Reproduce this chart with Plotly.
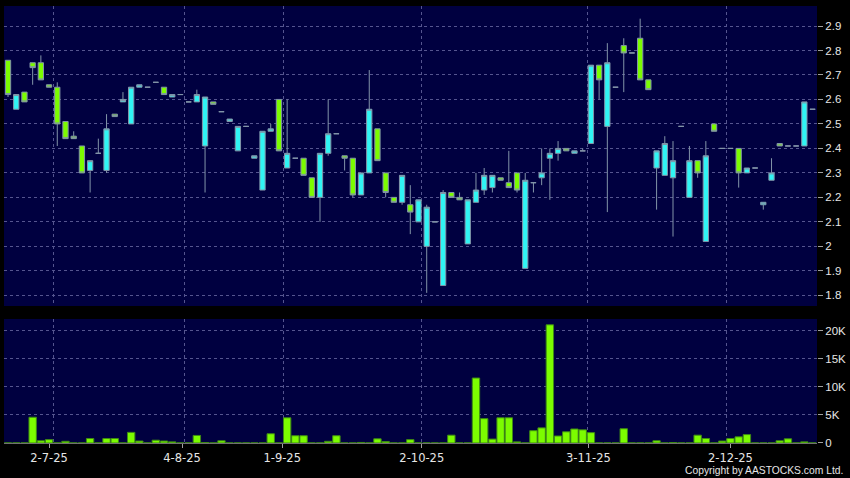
import plotly.graph_objects as go

# ---- data ----
opens = [2.76, 2.56, 2.63, 2.75, 2.75, 2.66, 2.65, 2.51, 2.45, 2.41,
         2.31, 2.38, 2.31, 2.54, 2.59, 2.50, 2.65, 2.65, 2.67, 2.65,
         2.61, 2.62, 2.59, 2.59, 2.41, 2.59, 2.55, 2.51, 2.39, 2.49,
         2.36, 2.23, 2.47, 2.60, 2.32, 2.36, 2.36, 2.28, 2.20, 2.38,
         2.46, 2.37, 2.36, 2.21, 2.30, 2.48, 2.30, 2.20, 2.18, 2.17,
         2.10, 2.00, 2.10, 1.84, 2.22, 2.20, 2.01, 2.18, 2.23, 2.24,
         2.28, 2.26, 2.30, 1.91, 2.26, 2.28, 2.36, 2.38, 2.40, 2.38,
         2.39, 2.42, 2.74, 2.49, 2.65, 2.82, 2.79, 2.85, 2.68, 2.32,
         2.29, 2.28, 2.49, 2.20, 2.35, 2.02, 2.50, 2.40, 2.40, 2.40,
         2.30, 2.32, 2.17, 2.27, 2.42, 2.41, 2.41, 2.41, 2.56]
highs = [2.76, 2.62, 2.63, 2.75, 2.78, 2.66, 2.67, 2.51, 2.47, 2.41,
         2.35, 2.44, 2.54, 2.54, 2.63, 2.65, 2.66, 2.65, 2.67, 2.65,
         2.62, 2.62, 2.59, 2.64, 2.61, 2.59, 2.55, 2.52, 2.49, 2.49,
         2.37, 2.47, 2.50, 2.60, 2.60, 2.36, 2.36, 2.28, 2.38, 2.60,
         2.46, 2.37, 2.36, 2.30, 2.72, 2.48, 2.30, 2.20, 2.29, 2.25,
         2.19, 2.17, 2.10, 2.23, 2.22, 2.22, 2.19, 2.30, 2.32, 2.29,
         2.28, 2.39, 2.30, 2.30, 2.26, 2.40, 2.40, 2.43, 2.40, 2.39,
         2.40, 2.74, 2.74, 2.83, 2.65, 2.85, 2.79, 2.93, 2.68, 2.39,
         2.45, 2.43, 2.49, 2.41, 2.35, 2.43, 2.50, 2.40, 2.40, 2.40,
         2.32, 2.32, 2.18, 2.36, 2.42, 2.41, 2.41, 2.59, 2.56]
lows = [2.61, 2.56, 2.59, 2.66, 2.68, 2.65, 2.41, 2.44, 2.44, 2.30,
        2.22, 2.38, 2.30, 2.53, 2.59, 2.50, 2.65, 2.65, 2.67, 2.62,
        2.61, 2.62, 2.59, 2.59, 2.22, 2.58, 2.55, 2.51, 2.39, 2.49,
        2.36, 2.23, 2.47, 2.39, 2.32, 2.36, 2.29, 2.20, 2.10, 2.37,
        2.46, 2.31, 2.20, 2.21, 2.30, 2.35, 2.20, 2.18, 2.17, 2.05,
        2.10, 1.81, 2.10, 1.84, 2.20, 2.19, 2.01, 2.18, 2.21, 2.22,
        2.27, 2.24, 2.22, 1.91, 2.22, 2.25, 2.19, 2.35, 2.39, 2.38,
        2.39, 2.42, 2.60, 2.14, 2.65, 2.63, 2.79, 2.68, 2.64, 2.15,
        2.29, 2.04, 2.49, 2.20, 2.28, 2.02, 2.47, 2.40, 2.40, 2.24,
        2.30, 2.32, 2.15, 2.27, 2.41, 2.41, 2.41, 2.41, 2.56]
closes = [2.62, 2.62, 2.59, 2.73, 2.68, 2.65, 2.50, 2.44, 2.44, 2.30,
          2.35, 2.38, 2.48, 2.53, 2.60, 2.65, 2.66, 2.65, 2.67, 2.62,
          2.62, 2.62, 2.59, 2.62, 2.61, 2.58, 2.55, 2.52, 2.49, 2.49,
          2.37, 2.47, 2.48, 2.39, 2.38, 2.36, 2.29, 2.20, 2.38, 2.46,
          2.46, 2.36, 2.21, 2.30, 2.56, 2.35, 2.22, 2.18, 2.29, 2.14,
          2.19, 2.16, 2.10, 2.22, 2.20, 2.19, 2.19, 2.23, 2.29, 2.29,
          2.27, 2.24, 2.23, 2.27, 2.26, 2.30, 2.38, 2.40, 2.39, 2.39,
          2.39, 2.74, 2.68, 2.75, 2.65, 2.79, 2.79, 2.68, 2.64, 2.39,
          2.42, 2.35, 2.49, 2.35, 2.30, 2.37, 2.47, 2.40, 2.40, 2.30,
          2.32, 2.32, 2.18, 2.30, 2.41, 2.41, 2.41, 2.59, 2.56]
volumes = [10, 10, 10, 4600, 400, 600, 10, 300, 10, 10,
           800, 10, 800, 800, 10, 1900, 350, 10, 500, 350,
           200, 10, 10, 1350, 80, 10, 400, 10, 10, 10,
           10, 10, 1650, 10, 4500, 1300, 1300, 10, 10, 300,
           1300, 10, 10, 100, 10, 750, 250, 10, 10, 600,
           10, 10, 10, 10, 1400, 10, 10, 11600, 4350, 700,
           4500, 4500, 200, 10, 2200, 2700, 21100, 1250, 2000, 2500,
           2350, 1850, 10, 10, 10, 2550, 10, 10, 10, 400,
           10, 80, 10, 10, 1400, 800, 10, 350, 800, 1100,
           1500, 10, 10, 10, 400, 750, 10, 200, 10]

date_tick_pos = [5, 21.2, 33.4, 50.4, 70.7, 88]
date_grid_pos = [5.5, 21.5, 33.5, 50.4, 70.6, 87.5]
date_tick_labels = ["2-7-25", "4-8-25", "1-9-25", "2-10-25", "3-11-25", "2-12-25"]
price_ticks = [1.8, 1.9, 2.0, 2.1, 2.2, 2.3, 2.4, 2.5, 2.6, 2.7, 2.8, 2.9]
price_tick_labels = ["1.8", "1.9", "2", "2.1", "2.2", "2.3", "2.4", "2.5", "2.6", "2.7", "2.8", "2.9"]
vol_ticks = [0, 5000, 10000, 15000, 20000]
vol_tick_labels = ["0", "5K", "10K", "15K", "20K"]

x = list(range(len(opens)))

# ---- styles ----
UP_FILL = "#30F4F4"
DOWN_FILL = "#7CFC00"
EDGE = "#8294A8"
NAVY = "#000040"
GRID = "#55558F"
TXT = "#E6E6E6"

fig = go.Figure()
fig.add_trace(go.Candlestick(
    x=x, open=opens, high=highs, low=lows, close=closes,
    increasing=dict(fillcolor=UP_FILL, line=dict(color=EDGE, width=1)),
    decreasing=dict(fillcolor=DOWN_FILL, line=dict(color=EDGE, width=1)),
    xaxis="x", yaxis="y", showlegend=False, hoverinfo="skip",
))
fig.add_trace(go.Bar(
    x=x, y=volumes,
    marker=dict(color=DOWN_FILL, line=dict(color="#3E8A14", width=1)),
    xaxis="x2", yaxis="y2", showlegend=False, hoverinfo="skip",
))

xr = [-0.49, 98.54]
axis_font = dict(family="DejaVu Sans", size=11.5, color=TXT)
yfont = dict(family="Liberation Sans", size=11.5, color=TXT)

fig.update_layout(
    width=850, height=478,
    margin=dict(l=4, r=33, t=6, b=35),
    paper_bgcolor="#000000",
    plot_bgcolor=NAVY,
    showlegend=False,
    boxgap=0.08,
    bargap=0.1,
    xaxis=dict(domain=[0, 1], range=xr, anchor="y",
               tickvals=date_grid_pos, showticklabels=False, ticks="",
               showgrid=True, gridcolor=GRID, griddash="3px,3px", gridwidth=1,
               zeroline=False, showline=False,
               rangeslider=dict(visible=False), fixedrange=True),
    yaxis=dict(domain=[0.3135, 1], range=[1.7564, 2.9817], anchor="x", side="right",
               tickvals=price_ticks, ticktext=price_tick_labels,
               ticks="outside", ticklen=5, tickcolor="#A0A0A0", tickfont=yfont,
               showgrid=True, gridcolor=GRID, griddash="3px,3px", gridwidth=1,
               zeroline=False, showline=False, fixedrange=True),
    xaxis2=dict(domain=[0, 1], range=xr, anchor="y2",
                tickvals=date_tick_pos, ticktext=date_tick_labels,
                ticks="outside", ticklen=4, tickcolor="#A0A0A0", tickfont=axis_font,
                showgrid=False,
                minor=dict(tickvals=date_grid_pos, showgrid=True, gridcolor=GRID,
                           griddash="3px,3px", gridwidth=1, ticks=""),
                zeroline=False, showline=True, linecolor="#707070", linewidth=1,
                fixedrange=True),
    yaxis2=dict(domain=[0, 0.2838], range=[0, 22140], anchor="x2", side="right",
                tickvals=vol_ticks, ticktext=vol_tick_labels,
                ticks="outside", ticklen=5, tickcolor="#A0A0A0", tickfont=yfont,
                showgrid=True, gridcolor=GRID, griddash="3px,3px", gridwidth=1,
                zeroline=False, showline=False, fixedrange=True),
    annotations=[dict(text="Copyright by AASTOCKS.com Ltd.", xref="paper", yref="paper",
                      x=1.0344, y=-0.0618, xanchor="right", yanchor="middle",
                      showarrow=False, font=dict(family="Liberation Sans", size=10.3, color=TXT))],
)

fig.write_html("out.html",
               config={"displayModeBar": False},
               post_script="document.body.style.margin='0px';document.body.style.overflow='hidden';")
